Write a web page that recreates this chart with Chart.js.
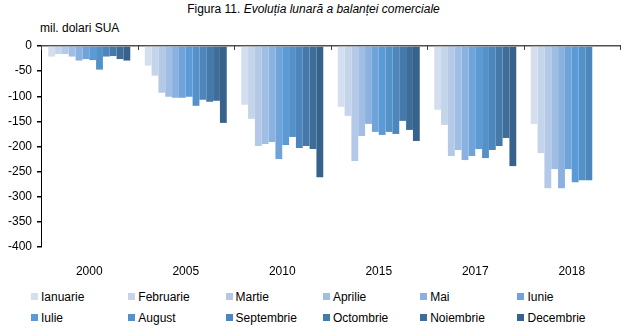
<!DOCTYPE html>
<html>
<head>
<meta charset="utf-8">
<script src="https://cdn.jsdelivr.net/npm/chart.js@4"></script>
<style>
  body{margin:0;background:#fff;font-family:"Liberation Sans",Arial,sans-serif;}
  #wrap{position:relative;width:627px;height:327px;overflow:hidden;}
  #title{position:absolute;top:2px;left:0;width:627px;text-align:center;font-size:12px;color:#000;}
  #unit{position:absolute;top:21px;left:40px;font-size:12px;color:#000;}
  #cv{position:absolute;top:0;left:0;}
  #legend{position:absolute;top:289px;left:31px;width:590px;display:grid;grid-template-columns:repeat(6,97.3px);row-gap:6px;font-size:12px;color:#000;}
  .lg{display:flex;align-items:center;height:15px;}
  .sw{width:7px;height:7px;margin-right:3px;flex-shrink:0;}
</style>
</head>
<body>
<div id="wrap">
  <div id="title">Figura 11. <i>Evoluția lunară a balanței comerciale</i></div>
  <div id="unit">mil. dolari SUA</div>
  <canvas id="cv" width="627" height="280"></canvas>
  <div id="legend"></div>
</div>
<script>
/* chart data */
var years = ['2000','2005','2010','2015','2017','2018'];
var months = ['Ianuarie','Februarie','Martie','Aprilie','Mai','Iunie','Iulie','August','Septembrie','Octombrie','Noiembrie','Decembrie'];
var monthColors = ['#d3deee','#c3d4eb','#b3c9e7','#a0bde3','#8ab1df','#6fa4db','#5c9ad5','#5491c9','#4d86bc','#4579aa','#3e6d9a','#37628b'];

// one array per month, one value per year
var ianuarie   = [-21, -39, -117, -121, -127, -155];
var februarie  = [-16, -59, -145, -139, -157, -213];
var martie     = [-16, -93, -199, -229, -219, -283];
var aprilie    = [-21, -101, -195, -179, -207, -245];
var mai        = [-29, -103, -191, -155, -227, -283];
var iunie      = [-26, -103, -225, -171, -219, -245];
var iulie      = [-28, -101, -197, -177, -205, -271];
var august     = [-47, -119, -181, -171, -223, -267];
var septembrie = [-21, -107, -203, -175, -207, -267];
var octombrie  = [-20, -111, -199, -149, -199, null];
var noiembrie  = [-26, -109, -205, -167, -183, null];
var decembrie  = [-29, -153, -261, -189, -239, null];

var yTicks = [0,-50,-100,-150,-200,-250,-300,-350,-400];

var monthValues = [ianuarie,februarie,martie,aprilie,mai,iunie,iulie,august,septembrie,octombrie,noiembrie,decembrie];

/* small tick marks on the zero line between the year groups */
var zeroTicks = {
  id:'zeroTicks',
  afterDatasetsDraw:function(chart){
    var x = chart.scales.x, y = chart.scales.y, ctx = chart.ctx;
    var y0 = y.getPixelForValue(0);
    ctx.save();
    ctx.strokeStyle = '#404040';
    ctx.lineWidth = 1;
    for(var i=0;i<=years.length;i++){
      var px = Math.round(x.left + i*(x.right-x.left)/years.length)+0.5;
      ctx.beginPath();
      ctx.moveTo(px, y0-1);
      ctx.lineTo(px, y0+4);
      ctx.stroke();
    }
    ctx.restore();
  }
};

function buildChart(){
  var ds = months.map(function(m,i){
    return {
      label:m,
      data:monthValues[i],
      backgroundColor:monthColors[i],
      borderWidth:0,
      categoryPercentage:0.85,
      barPercentage:1.0
    };
  });

  new Chart(document.getElementById('cv'), {
    type:'bar',
    data:{labels:years, datasets:ds},
    plugins:[zeroTicks],
    options:{
      responsive:false,
      animation:false,
      layout:{padding:{left:0,top:46,right:7,bottom:0}},
      plugins:{legend:{display:false},tooltip:{enabled:false}},
      scales:{
        x:{
          grid:{display:false},
          border:{display:false},
          ticks:{color:'#000',font:{family:'"Liberation Sans", Arial',size:12},padding:9},
          afterFit:function(s){ s.height = 33; }
        },
        y:{
          min:-400, max:0,
          afterBuildTicks:function(s){ s.ticks = yTicks.map(function(v){return {value:v};}); },
          grid:{
            color:function(c){ return c.tick && c.tick.value===0 ? '#505050' : 'rgba(0,0,0,0)'; },
            lineWidth:1.5,
            tickColor:'#000',
            tickLength:4
          },
          border:{display:true,color:'#000',width:1},
          ticks:{color:'#000',font:{family:'"Liberation Sans", Arial',size:12},padding:5},
          afterFit:function(s){ s.width = 41; }
        }
      }
    }
  });
}

function buildLegend(){
  var el = document.getElementById('legend');
  el.innerHTML = months.map(function(m,i){
    return '<div class="lg"><span class="sw" style="background:'+monthColors[i]+'"></span>'+m+'</div>';
  }).join('');
}

buildChart();
buildLegend();
</script>
</body>
</html>
